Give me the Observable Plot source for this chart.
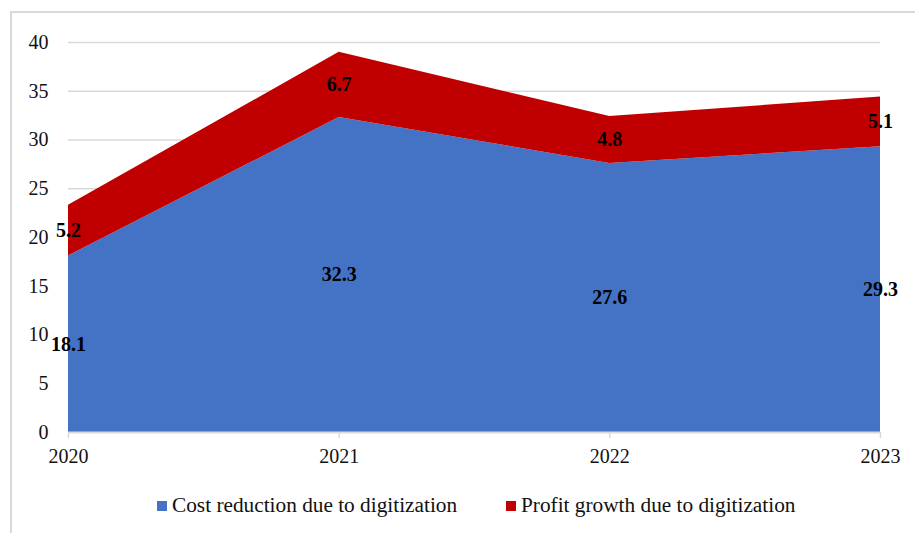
<!DOCTYPE html>
<html>
<head>
<meta charset="utf-8">
<script src="https://cdn.jsdelivr.net/npm/d3@7"></script>
<script src="https://cdn.jsdelivr.net/npm/@observablehq/plot@0.6"></script>
<style>
  html, body { margin: 0; padding: 0; background: #fff; overflow: hidden; width: 915px; height: 533px; }
  #frame { position: absolute; left: 10px; top: 11px; width: 1000px; height: 700px; border: 2px solid #d9d9d9; box-sizing: border-box; }
  #chart { position: absolute; left: 0; top: 0; }
  #legend { position: absolute; left: 0; top: 493px; width: 915px; font-family: "Liberation Serif", "DejaVu Serif", serif; font-size: 21.3px; color: #111; }
  .item { display: flex; align-items: center; position: absolute; top: 0; white-space: nowrap; }
  .sw { width: 10px; height: 10px; margin-right: 5px; margin-top: 1px; }
</style>
</head>
<body>
<div id="frame"></div>
<div id="chart"></div>
<div id="legend"></div>
<script>
const years = [2020, 2021, 2022, 2023];
const costReduction = [18.1, 32.3, 27.6, 29.3];
const profitGrowth = [5.2, 6.7, 4.8, 5.1];
const seriesNames = ["Cost reduction due to digitization", "Profit growth due to digitization"];
const seriesColors = ["#4472C4", "#C00000"];
const yTicks = [0, 5, 10, 15, 20, 25, 30, 35, 40];

const data = [];
years.forEach((yr, i) => {
  data.push({year: yr, series: seriesNames[0], value: costReduction[i]});
  data.push({year: yr, series: seriesNames[1], value: profitGrowth[i]});
});

const font = '"Liberation Serif", "DejaVu Serif", serif';

const chart = Plot.plot({
  width: 915,
  height: 470,
  marginLeft: 68,
  marginRight: 35,
  marginTop: 42,
  marginBottom: 38,
  style: {fontFamily: font, fontSize: "20px", color: "#111", background: "transparent", overflow: "visible"},
  x: {type: "linear", domain: [2020, 2023], label: null},
  y: {domain: [0, 40], label: null},
  color: {domain: seriesNames, range: seriesColors},
  marks: [
    Plot.gridY(yTicks.filter(t => t > 0), {stroke: "#d9d9d9", strokeOpacity: 1, strokeWidth: 1.5}),
    Plot.areaY(data, Plot.stackY({x: "year", y: "value", fill: "series", order: seriesNames, curve: "linear"})),
    Plot.ruleY([0], {stroke: "#d9d9d9", strokeWidth: 2}),
    Plot.axisY({ticks: yTicks, tickSize: 0, tickPadding: 20, fontFamily: font, fontSize: 20, fill: "#111", label: null}),
    Plot.axisX({ticks: years, tickFormat: d => String(d), tickSize: 6, tickPadding: 10, stroke: "#d9d9d9", strokeWidth: 1.5, strokeOpacity: 1, fill: "#111", fontFamily: font, fontSize: 20, label: null}),
    Plot.text(data, Plot.stackY({x: "year", y: "value", z: "series", order: seriesNames, text: d => d.value.toFixed(1), fontWeight: "bold", fontSize: 20, fontFamily: font, fill: "#000"}))
  ]
});
document.getElementById("chart").appendChild(chart);

const legend = document.getElementById("legend");
const lefts = [157, 506];
seriesNames.forEach((name, i) => {
  const it = document.createElement("div");
  it.className = "item";
  it.style.left = lefts[i] + "px";
  const sw = document.createElement("span");
  sw.className = "sw";
  sw.style.background = seriesColors[i];
  const tx = document.createElement("span");
  tx.textContent = name;
  it.appendChild(sw);
  it.appendChild(tx);
  legend.appendChild(it);
});
</script>
</body>
</html>
